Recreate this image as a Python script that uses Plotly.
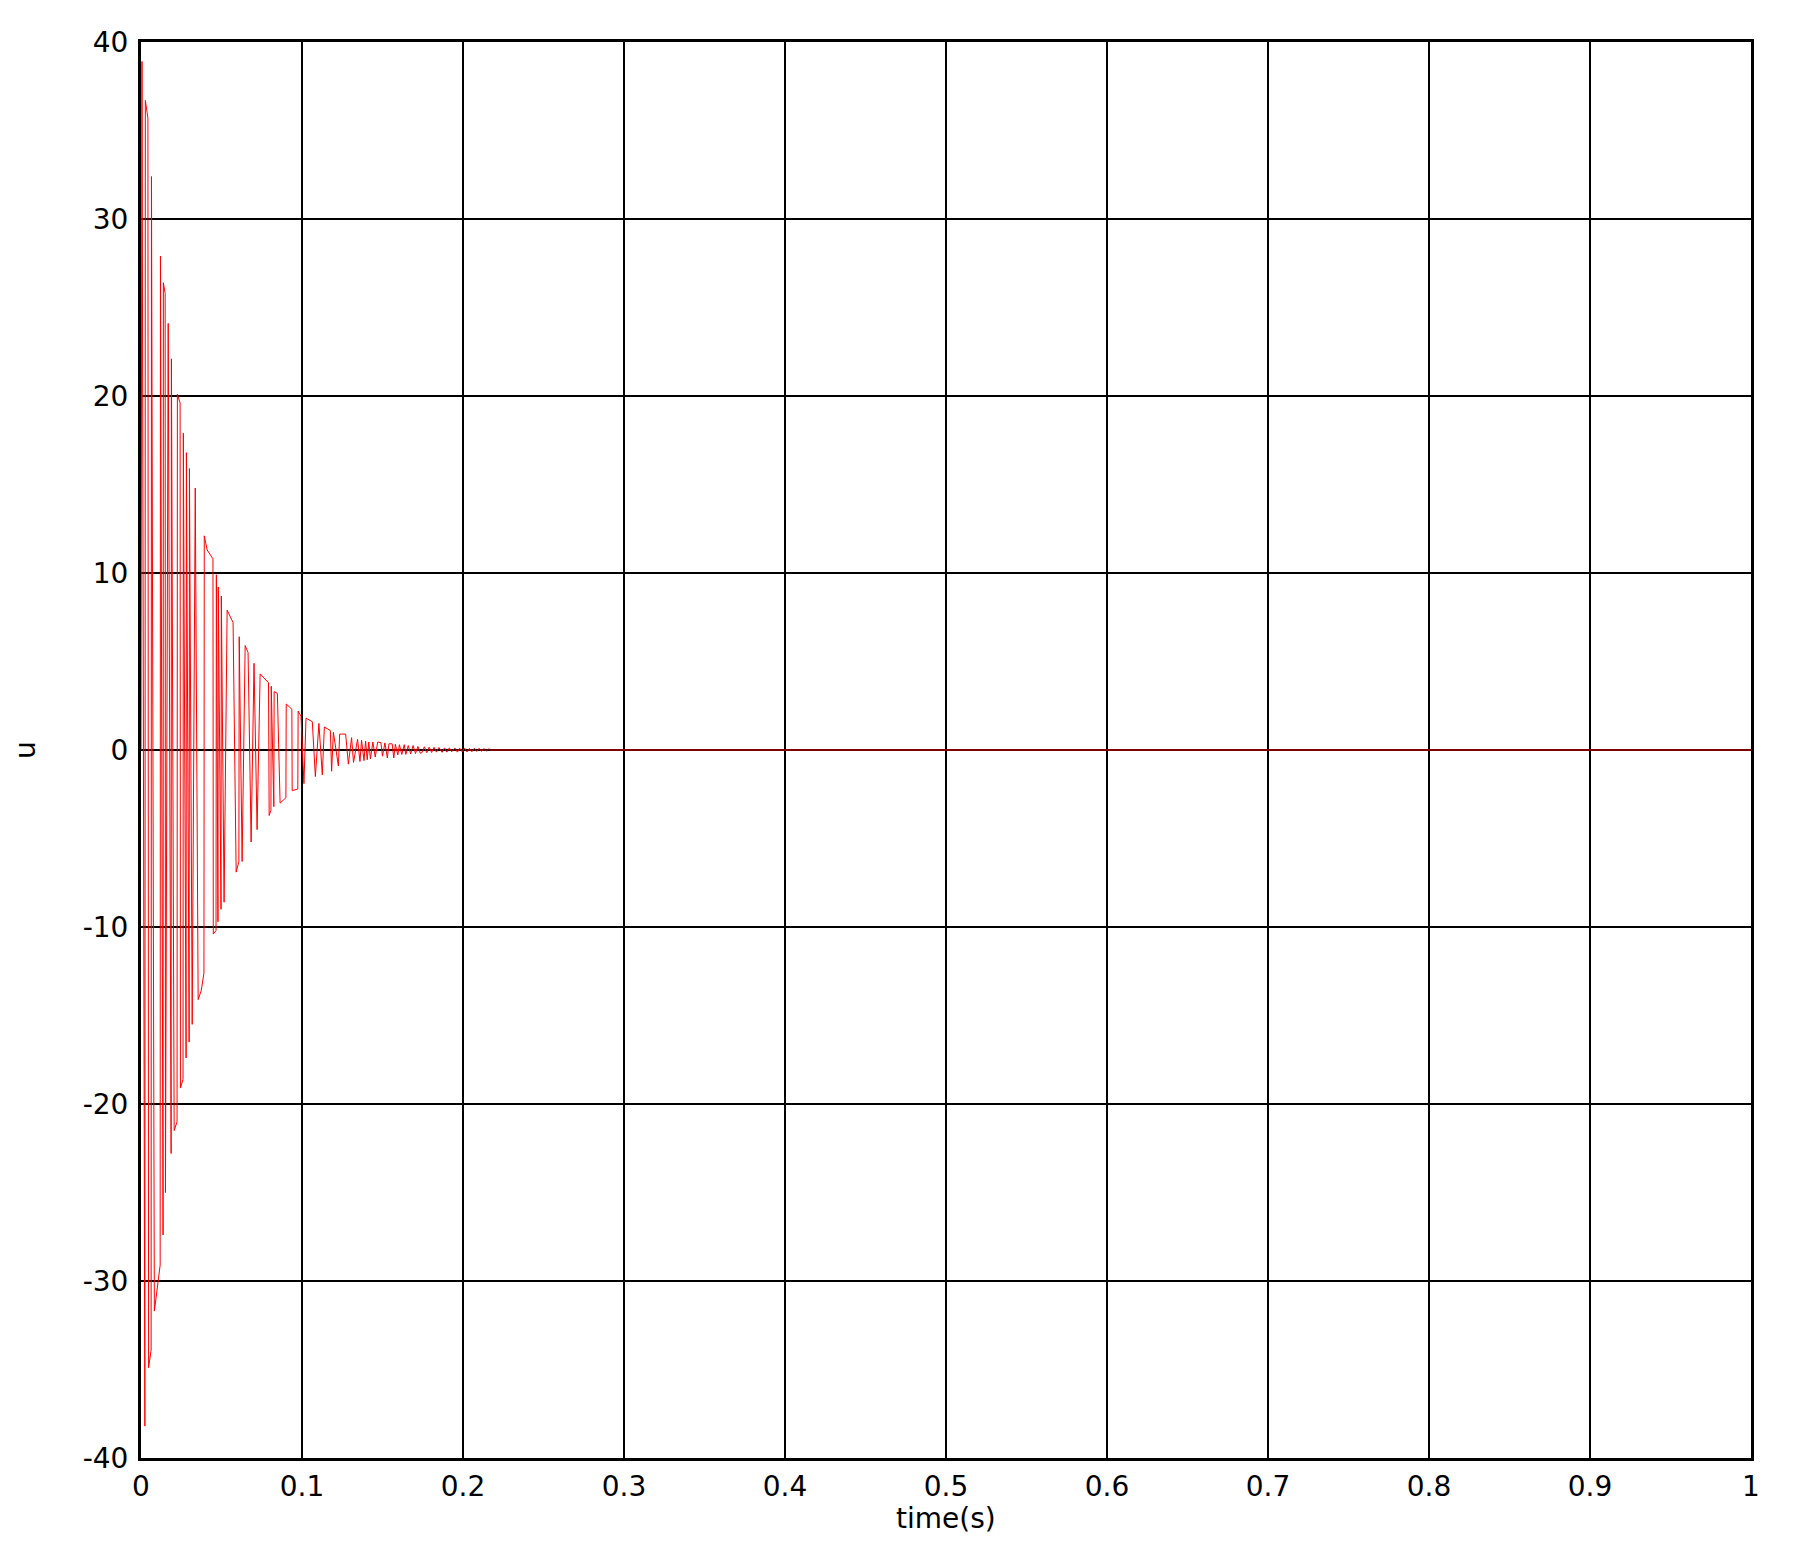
import plotly.graph_objects as go

t = [
    0.0000, 0.0006, 0.0024, 0.0027, 0.0043, 0.0047, 0.0063, 0.0065, 0.0083, 0.0119,
    0.0121, 0.0137, 0.0139, 0.0150, 0.0152, 0.0169, 0.0187, 0.0189, 0.0206, 0.0224,
    0.0226, 0.0243, 0.0245, 0.0261, 0.0263, 0.0280, 0.0282, 0.0299, 0.0301, 0.0318,
    0.0337, 0.0355, 0.0374, 0.0391, 0.0393, 0.0411, 0.0447, 0.0449, 0.0466, 0.0468,
    0.0478, 0.0480, 0.0497, 0.0499, 0.0516, 0.0535, 0.0572, 0.0591, 0.0608, 0.0610,
    0.0628, 0.0647, 0.0665, 0.0684, 0.0702, 0.0721, 0.0740, 0.0792, 0.0796, 0.0807,
    0.0809, 0.0825, 0.0827, 0.0847, 0.0864, 0.0900, 0.0902, 0.0937, 0.0939, 0.0974,
    0.0976, 0.0994, 0.1012, 0.1025, 0.1064, 0.1083, 0.1105, 0.1126, 0.1139, 0.1176,
    0.1184, 0.1195, 0.1226, 0.1234, 0.1246, 0.1271, 0.1288, 0.1308, 0.1320, 0.1345,
    0.1360, 0.1370, 0.1385, 0.1395, 0.1405, 0.1415, 0.1425, 0.1440, 0.1455, 0.1470,
    0.1490, 0.1500, 0.1515, 0.1530, 0.1540, 0.1560, 0.1570, 0.1580, 0.1595, 0.1605,
    0.1620, 0.1635, 0.1645, 0.1660, 0.1675, 0.1690, 0.1705, 0.1720, 0.1735, 0.1745,
    0.1760, 0.1775, 0.1790, 0.1805, 0.1820, 0.1835, 0.1850, 0.1870, 0.1885, 0.1900,
    0.1915, 0.1930, 0.1950, 0.1965, 0.1980, 0.1995, 0.2010, 0.2025, 0.2040, 0.2055,
    0.2070, 0.2085, 0.2100, 0.2115, 0.2130, 0.2145, 0.2160, 0.2170, 1.0000,
]
u = [
    0.0, 38.9, -38.2, 36.7, 35.7, -34.9, -33.9, 32.4, -31.7, -29.1,
    27.9, -27.4, 26.4, 25.8, -25.0, 24.1, -22.8, 22.1, -21.5, -21.0,
    20.1, 19.6, -19.1, -18.6, 17.9, -17.4, 16.8, -16.5, 15.9, -15.5,
    14.8, -14.1, -13.6, -12.6, 12.1, 11.3, 10.8, -10.4, -10.2, 9.9,
    -9.7, 9.2, -9.0, 8.7, -8.6, 7.9, 7.2, -6.9, -6.3, 6.4,
    -6.3, 5.9, 5.5, -5.2, 4.9, -4.5, 4.3, 3.8, -3.7, -3.4,
    3.6, -3.2, 3.3, 3.2, -3.0, -2.7, 2.6, 2.3, -2.3, -2.2,
    2.2, 1.9, -1.9, 1.8, 1.6, -1.5, 1.5, -1.4, 1.3, 1.1,
    -1.2, 1.0, -0.9, 0.9, 0.9, 0.9, -0.8, 0.7, -0.7, 0.6,
    -0.65, 0.55, -0.6, 0.5, -0.55, 0.45, -0.5, 0.45, -0.4, 0.45,
    0.42, -0.35, 0.4, -0.45, 0.35, 0.35, -0.45, 0.32, -0.28, 0.3,
    -0.25, 0.3, -0.25, 0.25, -0.22, 0.25, -0.2, 0.2, -0.18, -0.15,
    0.18, -0.15, 0.16, -0.14, 0.15, -0.12, 0.14, -0.13, 0.12, -0.12,
    0.12, -0.1, 0.11, -0.12, 0.1, -0.1, 0.1, -0.11, 0.09, -0.1,
    0.1, -0.08, 0.1, -0.08, 0.09, -0.07, 0.08, 0.0, 0.0,
]

x_ticks = [0, 0.1, 0.2, 0.3, 0.4, 0.5, 0.6, 0.7, 0.8, 0.9, 1]
x_labels = ["0", "0.1", "0.2", "0.3", "0.4", "0.5", "0.6", "0.7", "0.8", "0.9", "1"]
y_ticks = [-40, -30, -20, -10, 0, 10, 20, 30, 40]
y_labels = ["-40", "-30", "-20", "-10", "0", "10", "20", "30", "40"]

font = dict(family="DejaVu Sans", size=28, color="black")

fig = go.Figure(
    go.Scatter(
        x=t,
        y=u,
        mode="lines",
        line=dict(color="red", width=1),
        showlegend=False,
        hoverinfo="skip",
    )
)

axis_style = dict(
    showgrid=True,
    gridcolor="black",
    gridwidth=2,
    zeroline=False,
    showline=True,
    linecolor="black",
    linewidth=3,
    mirror=True,
    ticks="",
    tickfont=font,
    automargin=False,
)

fig.update_xaxes(
    range=[0, 1], tickvals=x_ticks, ticktext=x_labels, ticklabelstandoff=1, **axis_style
)
fig.update_yaxes(
    range=[-40, 40], tickvals=y_ticks, ticktext=y_labels, ticklabelstandoff=4, **axis_style
)

# axis titles placed by hand so the plot area keeps its size
fig.add_annotation(
    text="time(s)", xref="paper", yref="paper", x=0.5, y=-0.043,
    xanchor="center", yanchor="middle", showarrow=False, font=font,
)
fig.add_annotation(
    text="u", xref="paper", yref="paper", x=-0.072, y=0.5,
    xanchor="center", yanchor="middle", showarrow=False, font=font, textangle=-90,
)

# the page body adds 8 px on the left and top
fig.update_layout(
    width=1800,
    height=1548,
    plot_bgcolor="white",
    paper_bgcolor="white",
    margin=dict(l=133, r=57, t=34, b=98),
)

fig.write_html("out.html")
